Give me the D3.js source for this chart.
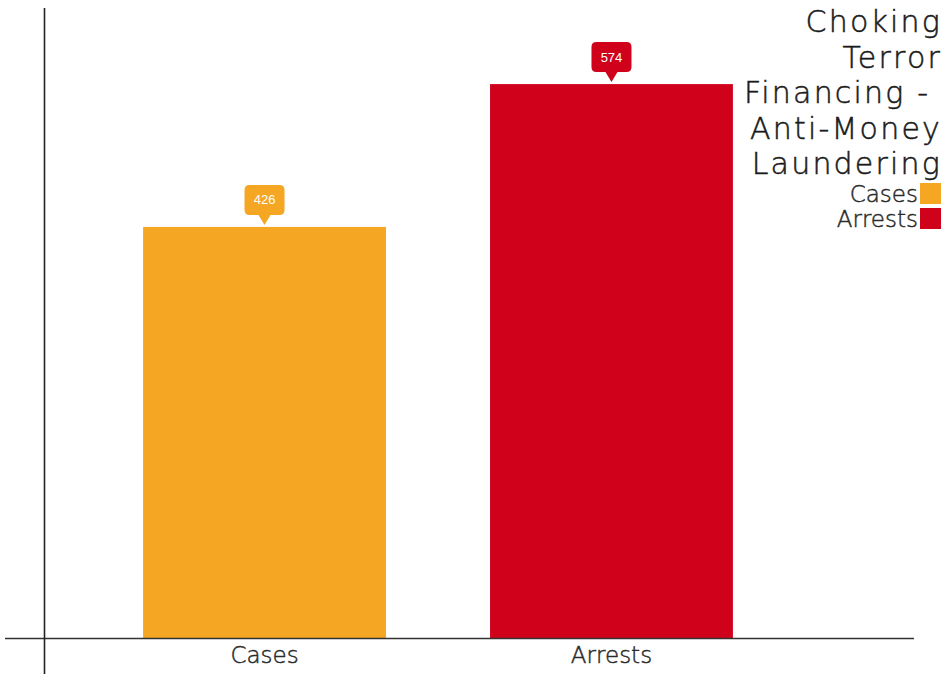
<!DOCTYPE html>
<html>
<head>
<meta charset="utf-8">
<script src="https://cdn.jsdelivr.net/npm/d3@7"></script>
<style>
  html, body { margin: 0; padding: 0; background: #fff; }
  svg { display: block; }
  .title, .legend text, .xaxis text {
    font-family: "DejaVu Sans", Lato, sans-serif;
    font-weight: 300;
    white-space: pre;
  }
</style>
</head>
<body>
<svg id="chart" width="952" height="674"></svg>
<script>
// Data
const categories = ["Cases", "Arrests"];
const values = [426, 574];
const colors = ["#F5A623", "#D0021B"];
const titleLines = ["Choking", "Terror", "Financing -\u00a0", "Anti-Money", "Laundering"];
const yMax = 600;

const svg = d3.select("#chart");
const baseY = 638.5;

const x = d3.scaleBand()
  .domain(categories)
  .range([39, 837])
  .paddingInner(0.3)
  .paddingOuter(0.3);

const y = d3.scaleLinear()
  .domain([0, yMax])
  .range([638, 59]);

// Bars
svg.append("g").selectAll("rect")
  .data(categories)
  .join("rect")
  .attr("x", d => x(d))
  .attr("width", x.bandwidth())
  .attr("y", (d, i) => y(values[i]))
  .attr("height", (d, i) => y(0) - y(values[i]))
  .attr("fill", (d, i) => colors[i]);

// Axis lines
svg.append("line")
  .attr("x1", 5).attr("x2", 914)
  .attr("y1", baseY).attr("y2", baseY)
  .attr("stroke", "#333").attr("stroke-width", 1.6);
svg.append("line")
  .attr("x1", 44.5).attr("x2", 44.5)
  .attr("y1", 8).attr("y2", 674)
  .attr("stroke", "#222").attr("stroke-width", 1.6);

// Category labels
const xAxis = svg.append("g")
  .attr("class", "xaxis")
  .attr("transform", `translate(0,${baseY})`)
  .call(d3.axisBottom(x).tickSize(0).tickPadding(8));
xAxis.select(".domain").remove();
xAxis.selectAll("text")
  .attr("font-size", 23)
  .attr("fill", "#2a2a2a")
  .attr("stroke", "#2a2a2a")
  .attr("stroke-width", 0.45)
  .style("font-family", "'DejaVu Sans', Lato, sans-serif")
  .style("font-weight", 300);

// Value callouts above each bar
const bw = 40, bh = 30, tip = 10, r = 5;
const callout = svg.append("g").selectAll("g")
  .data(categories)
  .join("g")
  .attr("transform", (d, i) => `translate(${x(d) + x.bandwidth() / 2},${y(values[i]) - 2})`);

callout.append("path")
  .attr("fill", (d, i) => colors[i])
  .attr("d", () => {
    const l = -bw / 2, rr = bw / 2, b = -tip, t = -tip - bh;
    return `M${l + r},${t} H${rr - r} Q${rr},${t} ${rr},${t + r} V${b - r} Q${rr},${b} ${rr - r},${b}
            H6 L0,0 L-6,${b} H${l + r} Q${l},${b} ${l},${b - r} V${t + r} Q${l},${t} ${l + r},${t} Z`;
  });
callout.append("text")
  .attr("y", -tip - bh / 2)
  .attr("dy", "0.35em")
  .attr("text-anchor", "middle")
  .attr("fill", "#fff")
  .attr("font-size", 13)
  .attr("font-family", "'Liberation Sans', Arial, sans-serif")
  .text((d, i) => values[i]);

// Title
svg.append("text")
  .attr("class", "title")
  .attr("text-anchor", "end")
  .attr("fill", "#1a1a1a")
  .attr("stroke", "#1a1a1a")
  .attr("stroke-width", 0.5)
  .attr("font-size", 30)
  .attr("letter-spacing", 2.2)
  .selectAll("tspan")
  .data(titleLines)
  .join("tspan")
  .attr("x", 942)
  .attr("y", (d, i) => 32 + i * 35.5)
  .text(d => d);

// Legend
const legend = svg.append("g").attr("class", "legend")
  .selectAll("g")
  .data(categories)
  .join("g")
  .attr("transform", (d, i) => `translate(0,${183 + i * 25})`);
legend.append("rect")
  .attr("x", 920).attr("width", 21).attr("height", 21)
  .attr("fill", (d, i) => colors[i]);
legend.append("text")
  .attr("x", 918).attr("y", 19)
  .attr("text-anchor", "end")
  .attr("font-size", 23)
  .attr("fill", "#2a2a2a")
  .attr("stroke", "#2a2a2a")
  .attr("stroke-width", 0.45)
  .text(d => d);
</script>
</body>
</html>
